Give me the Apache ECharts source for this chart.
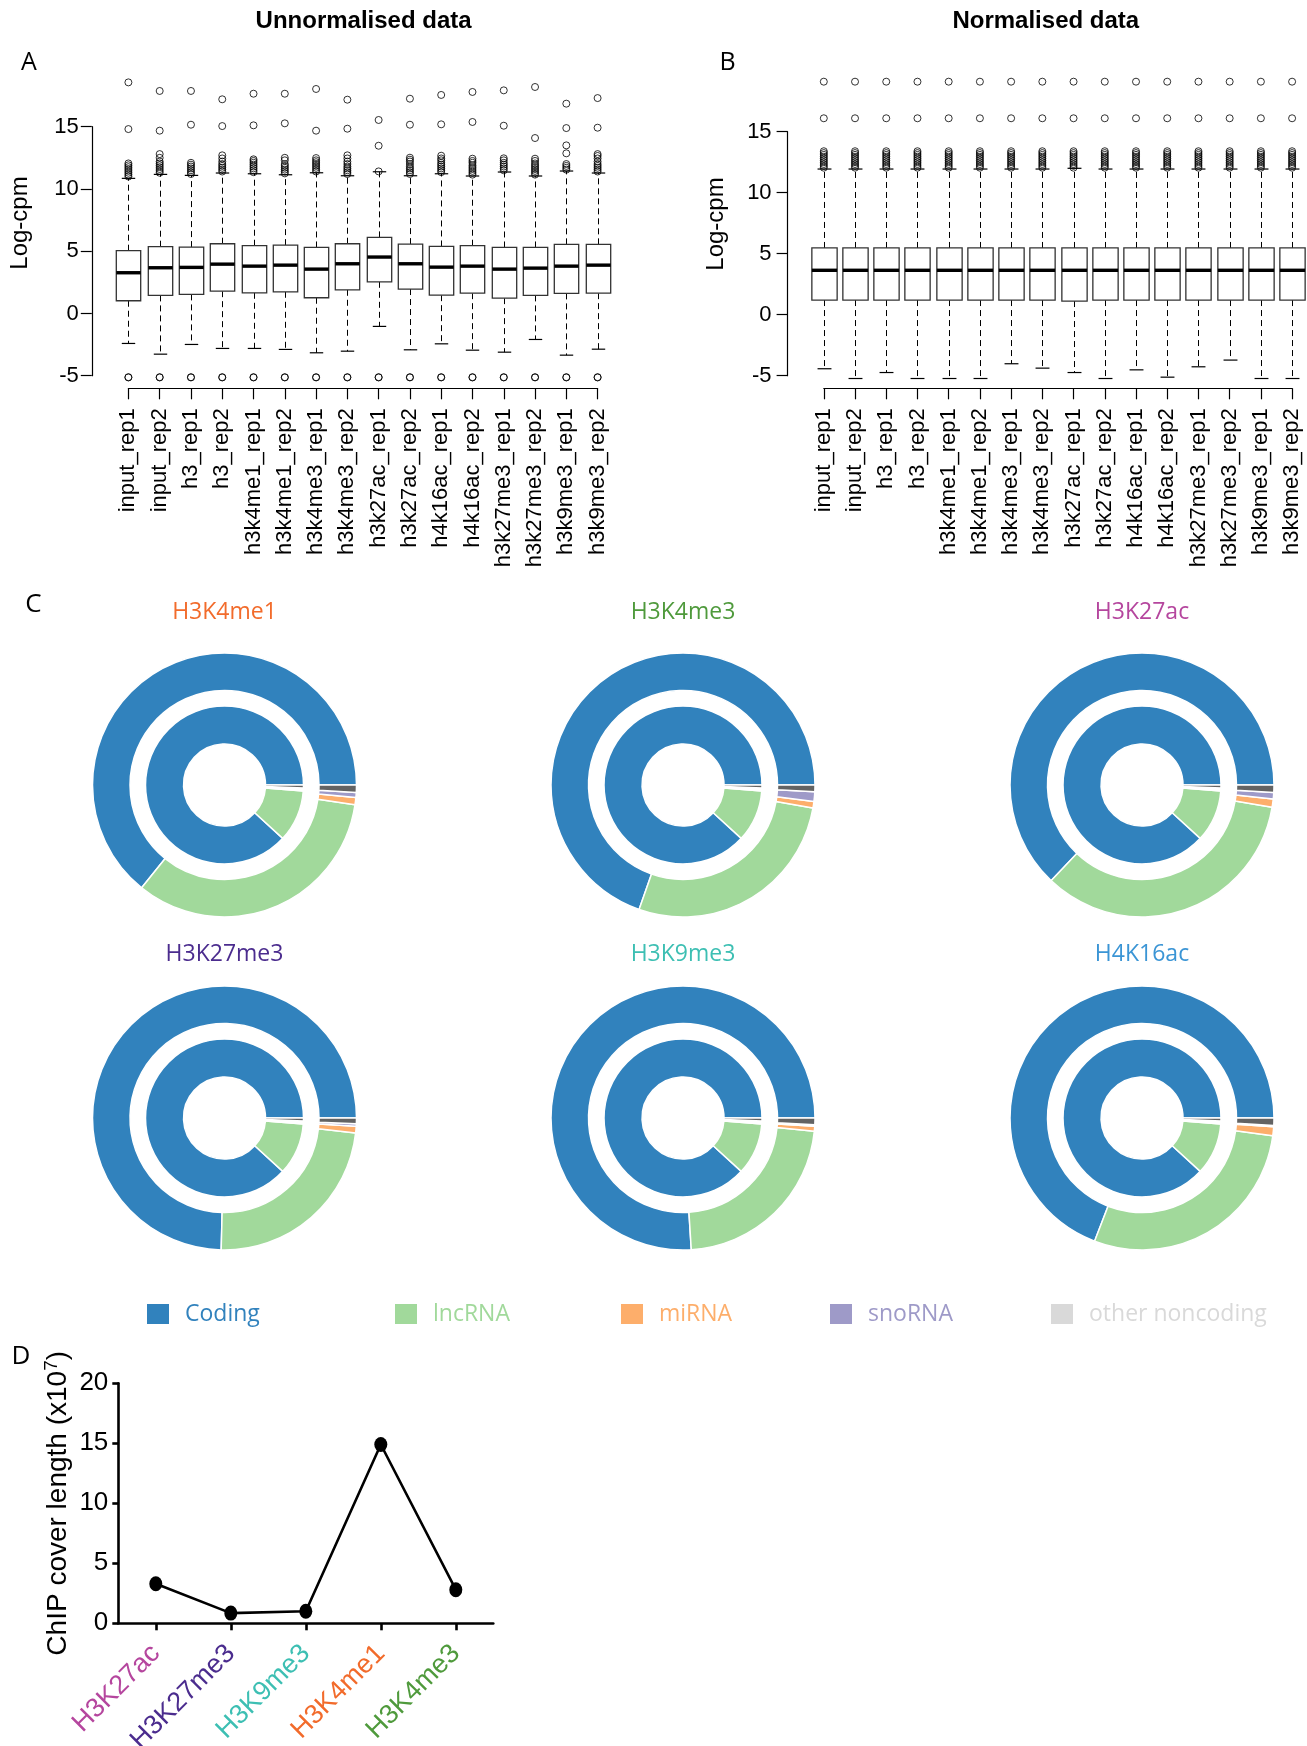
<!DOCTYPE html>
<html>
<head>
<meta charset="utf-8">
<title>ChIP-seq library overview</title>
<script src="https://cdn.jsdelivr.net/npm/echarts@6/dist/echarts.min.js"></script>
<style>
  html, body { margin: 0; padding: 0; background: #fff; }
  #chart { width: 1307px; height: 1746px; }
</style>
</head>
<body>
<div id="chart"></div>
<script>
// ---------- Panels A & B: log-cpm distributions per library ----------
const sampleNames = ['input_rep1', 'input_rep2', 'h3_rep1', 'h3_rep2', 'h3k4me1_rep1', 'h3k4me1_rep2',
  'h3k4me3_rep1', 'h3k4me3_rep2', 'h3k27ac_rep1', 'h3k27ac_rep2', 'h4k16ac_rep1', 'h4k16ac_rep2',
  'h3k27me3_rep1', 'h3k27me3_rep2', 'h3k9me3_rep1', 'h3k9me3_rep2'];

// unnormalised
const rawLowerWhisker = [-2.41, -3.27, -2.49, -2.81, -2.81, -2.89, -3.16, -3.03, -1.04, -2.92, -2.44, -2.95, -3.11, -2.09, -3.35, -2.87];
const rawQ1 = [1.02, 1.45, 1.53, 1.79, 1.66, 1.74, 1.26, 1.90, 2.54, 1.96, 1.47, 1.63, 1.23, 1.45, 1.61, 1.63];
const rawMedian = [3.27, 3.67, 3.70, 3.96, 3.80, 3.88, 3.56, 3.99, 4.53, 3.99, 3.72, 3.80, 3.56, 3.64, 3.80, 3.88];
const rawQ3 = [5.04, 5.36, 5.33, 5.60, 5.44, 5.49, 5.30, 5.60, 6.11, 5.57, 5.38, 5.44, 5.30, 5.30, 5.55, 5.55];
const rawUpperWhisker = [10.85, 11.17, 11.09, 11.28, 11.22, 11.14, 11.30, 11.06, 11.38, 11.06, 11.22, 11.04, 11.36, 11.04, 11.44, 11.28];
const rawOutliers = [
  [-5.14, -5.12, 11.0, 11.15, 11.3, 11.45, 11.6, 11.75, 11.9, 12.05, 14.81, 18.56],
  [-5.14, -5.12, 11.3, 11.45, 11.6, 11.75, 11.9, 12.05, 12.2, 12.5, 12.8, 14.68, 17.87],
  [-5.14, -5.12, 11.2, 11.35, 11.5, 11.65, 11.8, 11.95, 12.1, 15.16, 17.87],
  [-5.14, -5.12, 11.4, 11.55, 11.7, 11.85, 12.0, 12.2, 12.45, 12.7, 15.05, 17.2],
  [-5.14, -5.12, 11.35, 11.5, 11.65, 11.8, 11.95, 12.1, 12.25, 12.38, 15.11, 17.65],
  [-5.14, -5.12, 11.25, 11.4, 11.55, 11.7, 11.85, 12.0, 12.3, 12.5, 15.27, 17.65],
  [-5.14, -5.12, 11.4, 11.55, 11.7, 11.85, 12.0, 12.15, 12.3, 12.48, 14.68, 18.03],
  [-5.14, -5.12, 11.2, 11.35, 11.5, 11.65, 11.8, 12.0, 12.2, 12.45, 12.7, 14.84, 17.17],
  [-5.14, -5.12, 11.41, 13.47, 15.54],
  [-5.14, -5.12, 11.2, 11.35, 11.5, 11.65, 11.8, 12.0, 12.2, 12.35, 12.51, 15.16, 17.25],
  [-5.14, -5.12, 11.35, 11.5, 11.65, 11.8, 11.95, 12.1, 12.3, 12.45, 12.67, 15.19, 17.55],
  [-5.14, -5.12, 11.15, 11.3, 11.45, 11.6, 11.75, 11.9, 12.1, 12.25, 12.43, 15.38, 17.79],
  [-5.14, -5.12, 11.5, 11.65, 11.8, 11.95, 12.1, 12.3, 12.46, 15.08, 17.92],
  [-5.14, -5.12, 11.15, 11.3, 11.45, 11.6, 11.75, 11.9, 12.05, 12.25, 12.43, 14.09, 18.19],
  [-5.14, -5.12, 11.55, 11.7, 11.85, 12.0, 12.86, 13.5, 14.89, 16.85],
  [-5.14, -5.12, 11.4, 11.55, 11.7, 11.85, 12.0, 12.2, 12.45, 12.65, 12.8, 14.92, 17.30]
];

// normalised
const normLowerWhisker = [-4.43, -5.23, -4.74, -5.23, -5.23, -5.23, -4.02, -4.38, -4.74, -5.23, -4.52, -5.12, -4.27, -3.72, -5.23, -5.23];
const normQ1 = [1.20, 1.20, 1.20, 1.20, 1.20, 1.20, 1.20, 1.20, 1.12, 1.20, 1.20, 1.20, 1.20, 1.20, 1.20, 1.20];
const normMedian = [3.64, 3.64, 3.64, 3.64, 3.64, 3.64, 3.64, 3.64, 3.64, 3.64, 3.64, 3.64, 3.64, 3.64, 3.64, 3.64];
const normQ3 = [5.47, 5.47, 5.47, 5.47, 5.47, 5.47, 5.47, 5.47, 5.47, 5.47, 5.47, 5.47, 5.47, 5.47, 5.47, 5.47];
const normUpperWhisker = [11.94, 11.94, 11.94, 11.94, 11.94, 11.94, 11.94, 11.94, 12.0, 11.94, 11.94, 11.94, 11.94, 11.94, 11.94, 11.94];
const normOutliers = [12.05, 12.2, 12.35, 12.5, 12.65, 12.8, 12.95, 13.1, 13.25, 13.4, 16.1, 19.1];

const logCpmTicks = { min: -5, max: 15, interval: 5 };

// ---------- Panel C: genomic feature composition ----------
const featureNames = ['Coding', 'lncRNA', 'miRNA', 'snoRNA', 'other noncoding'];
const featureColors = ['#3182bd', '#a1d99b', '#fdae6b', '#9e9ac8', '#636363'];
const legendSwatchColors = ['#3182bd', '#a1d99b', '#fdae6b', '#9e9ac8', '#d9d9d9'];
const markNames = ['H3K4me1', 'H3K4me3', 'H3K27ac', 'H3K27me3', 'H3K9me3', 'H4K16ac'];
const markColors = ['#f26b2b', '#4f9a3c', '#b5469e', '#4b2c8e', '#3dbfb3', '#3b95d5'];
const genomeShare = [88.2, 10.6, 0.3, 0.3, 0.6];          // inner ring
const peakShareH3K4me1 = [64.2, 33.4, 0.9, 0.6, 0.9];     // outer rings
const peakShareH3K4me3 = [69.6, 27.6, 0.8, 1.2, 0.8];
const peakShareH3K27ac = [62.9, 34.4, 1.0, 0.8, 0.9];
const peakShareH3K27me3 = [74.6, 23.6, 0.8, 0.3, 0.7];
const peakShareH3K9me3 = [76.0, 22.4, 0.6, 0.2, 0.8];
const peakShareH4K16ac = [69.15, 28.7, 1.1, 0.15, 0.9];
const peakShares = [peakShareH3K4me1, peakShareH3K4me3, peakShareH3K27ac, peakShareH3K27me3, peakShareH3K9me3, peakShareH4K16ac];

// ---------- Panel D: ChIP cover length ----------
const coverMarks = ['H3K27ac', 'H3K27me3', 'H3K9me3', 'H3K4me1', 'H3K4me3'];
const coverColors = ['#b5469e', '#4b2c8e', '#3dbfb3', '#f26b2b', '#4f9a3c'];
const coverLength = [3.3, 0.85, 1.0, 14.9, 2.8];   // x10^7
const coverTicks = { min: 0, max: 20, interval: 5 };

// ------------------------------------------------------------------
const SANS = 'Liberation Sans, Arial, Helvetica, sans-serif';
const HUMAN = 'Open Sans, Noto Sans, sans-serif';

function boxData(lw, q1, med, q3, uw) {
  return sampleNames.map((_, i) => [i, lw[i], q1[i], med[i], q3[i], uw[i]]);
}

function boxRenderer(boxWidth) {
  return function (params, api) {
    const x = api.value(0);
    const pLw = api.coord([x, api.value(1)]);
    const pQ1 = api.coord([x, api.value(2)]);
    const pMed = api.coord([x, api.value(3)]);
    const pQ3 = api.coord([x, api.value(4)]);
    const pUw = api.coord([x, api.value(5)]);
    const half = api.size([boxWidth, 0])[0] / 2;
    const cap = half * 0.55;
    const cx = Math.round(pQ1[0]) + 0.5;
    const dash = { stroke: '#000', lineWidth: 1, lineDash: [6, 4] };
    const solid = { stroke: '#000', lineWidth: 1.2 };
    return {
      type: 'group',
      children: [
        { type: 'line', shape: { x1: cx, y1: pQ3[1], x2: cx, y2: pUw[1] }, style: dash },
        { type: 'line', shape: { x1: cx, y1: pQ1[1], x2: cx, y2: pLw[1] }, style: dash },
        { type: 'line', shape: { x1: cx - cap, y1: pUw[1], x2: cx + cap, y2: pUw[1] }, style: solid },
        { type: 'line', shape: { x1: cx - cap, y1: pLw[1], x2: cx + cap, y2: pLw[1] }, style: solid },
        { type: 'rect', shape: { x: cx - half, y: pQ3[1], width: 2 * half, height: pQ1[1] - pQ3[1] },
          style: { fill: '#fff', stroke: '#333', lineWidth: 1.3 } },
        { type: 'line', shape: { x1: cx - half, y1: pMed[1], x2: cx + half, y2: pMed[1] },
          style: { stroke: '#000', lineWidth: 3.4 } }
      ]
    };
  };
}

function outlierPoints(lists) {
  const pts = [];
  lists.forEach((vals, i) => vals.forEach(v => pts.push([i, v])));
  return pts;
}

function sampleXAxis(gridIndex) {
  return {
    type: 'value', gridIndex, min: 0, max: 15, interval: 1, offset: 12.6,
    axisLine: { show: true, onZero: false, lineStyle: { color: '#000', width: 1.2 } },
    axisTick: { show: true, length: 11, lineStyle: { color: '#000', width: 1.2 } },
    splitLine: { show: false },
    axisLabel: {
      rotate: 90, margin: 20, fontSize: 22, fontFamily: SANS, color: '#000',
      formatter: v => sampleNames[v] || ''
    }
  };
}

function logCpmYAxis(gridIndex, offset, margin) {
  return {
    type: 'value', gridIndex, min: logCpmTicks.min, max: logCpmTicks.max, interval: logCpmTicks.interval,
    offset,
    axisLine: { show: true, onZero: false, lineStyle: { color: '#000', width: 1.2 } },
    axisTick: { show: true, length: 11, lineStyle: { color: '#000', width: 1.2 } },
    splitLine: { show: false },
    axisLabel: { fontSize: 22, fontFamily: SANS, color: '#000', margin }
  };
}

const series = [];

// panel A
series.push({
  type: 'custom', xAxisIndex: 0, yAxisIndex: 0, clip: false, silent: true,
  renderItem: boxRenderer(0.78),
  data: boxData(rawLowerWhisker, rawQ1, rawMedian, rawQ3, rawUpperWhisker)
});
series.push({
  type: 'scatter', xAxisIndex: 0, yAxisIndex: 0, clip: false, silent: true,
  symbol: 'circle', symbolSize: 7,
  itemStyle: { color: 'rgba(0,0,0,0)', borderColor: '#000', borderWidth: 1 },
  data: outlierPoints(rawOutliers)
});

// panel B
series.push({
  type: 'custom', xAxisIndex: 1, yAxisIndex: 1, clip: false, silent: true,
  renderItem: boxRenderer(0.81),
  data: boxData(normLowerWhisker, normQ1, normMedian, normQ3, normUpperWhisker)
});
series.push({
  type: 'scatter', xAxisIndex: 1, yAxisIndex: 1, clip: false, silent: true,
  symbol: 'circle', symbolSize: 7,
  itemStyle: { color: 'rgba(0,0,0,0)', borderColor: '#000', borderWidth: 1 },
  data: outlierPoints(sampleNames.map(() => normOutliers))
});

// panel C: two rings per mark (inner = genome background, outer = peaks)
const pieCentersX = [224.5, 683, 1142];
const pieCentersY = [785, 1118];
function ringData(shares) {
  return featureNames.map((n, i) => ({ name: n, value: shares[i], itemStyle: { color: featureColors[i] } }));
}
markNames.forEach((mark, m) => {
  const center = [pieCentersX[m % 3], pieCentersY[Math.floor(m / 3)]];
  const common = {
    type: 'pie', center, startAngle: 0, clockwise: false, silent: true,
    label: { show: false }, labelLine: { show: false },
    itemStyle: { borderColor: '#fff', borderWidth: 1.5 },
    emphasis: { disabled: true }
  };
  series.push(Object.assign({}, common, { name: mark + ' genome', radius: [41, 79], data: ringData(genomeShare) }));
  series.push(Object.assign({}, common, { name: mark + ' peaks', radius: [94.5, 132], data: ringData(peakShares[m]) }));
});

// panel D
series.push({
  type: 'line', xAxisIndex: 2, yAxisIndex: 2, silent: true,
  symbol: 'circle', symbolSize: [13, 15],
  lineStyle: { color: '#000', width: 2.6 },
  itemStyle: { color: '#000' },
  data: coverLength
});

// legends, one per feature so each sits at its own spot
const legendLefts = [145, 393, 619, 828, 1049];
const legends = featureNames.map((n, i) => ({
  left: legendLefts[i], top: 1302, orient: 'horizontal', selectedMode: false, padding: 0,
  itemWidth: 24, itemHeight: 22,
  data: [{ name: n, icon: 'rect', itemStyle: { color: legendSwatchColors[i] },
    textStyle: { color: legendSwatchColors[i], fontSize: 23, fontFamily: HUMAN, padding: [0, 0, 0, 10] } }]
}));

// text: headings, panel letters, ring titles, Log-cpm axis titles
const texts = [
  { t: 'Unnormalised data', x: 363.6, y: 21, font: 'bold 24px ' + SANS, c: '#000' },
  { t: 'Normalised data', x: 1045.8, y: 21, font: 'bold 24px ' + SANS, c: '#000' },
  { t: 'A', x: 29, y: 63, font: '25px ' + HUMAN, c: '#000' },
  { t: 'B', x: 727.5, y: 63, font: '25px ' + HUMAN, c: '#000' },
  { t: 'C', x: 33.5, y: 605, font: '26px ' + HUMAN, c: '#000' },
  { t: 'D', x: 21, y: 1357, font: '26px ' + HUMAN, c: '#000' },
  { t: 'Log-cpm', x: 20, y: 223, font: '24px ' + SANS, c: '#000', r: Math.PI / 2 },
  { t: 'Log-cpm', x: 716, y: 224, font: '24px ' + SANS, c: '#000', r: Math.PI / 2 }
];
markNames.forEach((mark, m) => {
  texts.push({ t: mark, x: pieCentersX[m % 3], y: m < 3 ? 612 : 954, font: '23px ' + HUMAN, c: markColors[m] });
});

const richCover = {};
coverMarks.forEach((_, i) => {
  richCover['c' + i] = { color: coverColors[i], fontSize: 27, fontFamily: SANS };
});

const option = {
  backgroundColor: '#fff',
  animation: false,
  legend: legends,
  grid: [
    { left: 128.4, top: 126.7, width: 469.2, height: 249, outerBoundsMode: 'none', containLabel: false },
    { left: 823.8, top: 131.7, width: 468.3, height: 244, outerBoundsMode: 'none', containLabel: false },
    { left: 118.3, top: 1383.3, width: 375, height: 240, outerBoundsMode: 'none', containLabel: false }
  ],
  xAxis: [
    sampleXAxis(0),
    sampleXAxis(1),
    {
      type: 'category', gridIndex: 2, data: coverMarks, boundaryGap: true,
      axisLine: { show: true, onZero: false, lineStyle: { color: '#000', width: 2.6 } },
      axisTick: { show: true, alignWithLabel: true, length: 7, lineStyle: { color: '#000', width: 2.6 } },
      axisLabel: {
        rotate: 45, margin: 26, interval: 0,
        formatter: (v, i) => '{c' + i + '|' + v + '}',
        rich: richCover
      }
    }
  ],
  yAxis: [
    logCpmYAxis(0, 36.6, 13),
    logCpmYAxis(1, 36.2, 16),
    {
      type: 'value', gridIndex: 2, min: coverTicks.min, max: coverTicks.max, interval: coverTicks.interval,
      name: '{a|ChIP cover length (x10}{s|7}{a|)}', nameLocation: 'middle', nameGap: 44,
      nameTextStyle: {
        rich: {
          a: { fontSize: 28, fontFamily: SANS, color: '#000', lineHeight: 32 },
          s: { fontSize: 19, fontFamily: SANS, color: '#000', verticalAlign: 'top', lineHeight: 32, padding: [0, 0, 10, 0] }
        }
      },
      axisLine: { show: true, onZero: false, lineStyle: { color: '#000', width: 2.6 } },
      axisTick: { show: true, length: 6, lineStyle: { color: '#000', width: 2.6 } },
      splitLine: { show: false },
      axisLabel: { fontSize: 26, fontFamily: SANS, color: '#000', margin: 10 }
    }
  ],
  graphic: texts.map(d => ({
    type: 'text', x: d.x, y: d.y, rotation: d.r || 0, silent: true,
    style: { text: d.t, fill: d.c, font: d.font, align: 'center', verticalAlign: 'middle' }
  })),
  series
};

const chart = echarts.init(document.getElementById('chart'), null, { renderer: 'canvas', width: 1307, height: 1746 });
chart.setOption(option);
</script>
</body>
</html>
